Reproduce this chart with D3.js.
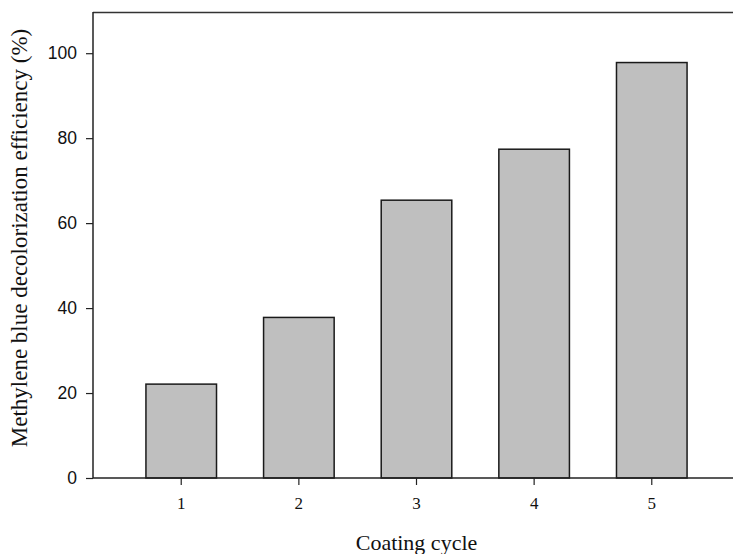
<!DOCTYPE html>
<html>
<head>
<meta charset="utf-8">
<script src="https://cdn.jsdelivr.net/npm/d3@7"></script>
<style>
  html, body { margin: 0; padding: 0; background: #fff; }
  svg { display: block; }
</style>
</head>
<body>
<svg id="chart" width="733" height="554"></svg>
<script>
// Decolorization efficiency after each coating cycle
const cycles = [1, 2, 3, 4, 5];
const efficiency = [22.1, 37.8, 65.4, 77.4, 97.8];
const yTicks = [0, 20, 40, 60, 80, 100];

const svg = d3.select("#chart");
const plotLeft = 93, plotRight = 740, plotTop = 12, plotBottom = 478;

const x = d3.scaleBand()
  .domain(cycles)
  .range([plotLeft, plotRight])
  .paddingInner(0.4)
  .paddingOuter(0.45);

const y = d3.scaleLinear()
  .domain([0, 109.7])
  .range([plotBottom, plotTop]);

// Bars
svg.append("g")
  .selectAll("rect")
  .data(cycles.map((c, i) => ({ c, v: efficiency[i] })))
  .join("rect")
  .attr("x", d => x(d.c))
  .attr("y", d => y(d.v))
  .attr("width", x.bandwidth())
  .attr("height", d => y(0) - y(d.v))
  .attr("fill", "#bfbfbf")
  .attr("stroke", "#1a1a1a")
  .attr("stroke-width", 1.5);

// Top frame line (runs off to the right edge)
svg.append("line")
  .attr("x1", plotLeft).attr("x2", plotRight)
  .attr("y1", plotTop + 0.5).attr("y2", plotTop + 0.5)
  .attr("stroke", "#333").attr("stroke-width", 1.5);

// Y axis
const yAxis = svg.append("g")
  .attr("transform", `translate(${plotLeft},0)`)
  .call(d3.axisLeft(y).tickValues(yTicks).tickSize(7).tickPadding(9).tickSizeOuter(0));
yAxis.select(".domain").attr("stroke", "#222").attr("stroke-width", 1.5)
  .attr("d", `M0,${plotTop}V${plotBottom}`);
yAxis.selectAll(".tick line").attr("stroke", "#222").attr("stroke-width", 1.2);
yAxis.selectAll(".tick text")
  .attr("font-family", "Liberation Sans, Arial, sans-serif")
  .attr("font-size", 17.5)
  .attr("fill", "#111");

// X axis
const xAxis = svg.append("g")
  .attr("transform", `translate(0,${plotBottom})`)
  .call(d3.axisBottom(x).tickSize(7).tickPadding(12).tickSizeOuter(0));
xAxis.select(".domain").attr("stroke", "#222").attr("stroke-width", 1.5)
  .attr("d", `M${plotLeft},0H${plotRight}`);
xAxis.selectAll(".tick line").attr("stroke", "#222").attr("stroke-width", 1.2);
xAxis.selectAll(".tick text")
  .attr("font-family", "Liberation Serif, 'Times New Roman', serif")
  .attr("font-size", 17)
  .attr("fill", "#111");

// Axis titles
svg.append("text")
  .attr("x", (plotLeft + plotRight) / 2)
  .attr("y", 550)
  .attr("text-anchor", "middle")
  .attr("font-family", "Liberation Serif, 'Times New Roman', serif")
  .attr("font-size", 22)
  .attr("fill", "#111")
  .text("Coating cycle");

svg.append("text")
  .attr("transform", `translate(27,238) rotate(-90)`)
  .attr("text-anchor", "middle")
  .attr("font-family", "Liberation Serif, 'Times New Roman', serif")
  .attr("font-size", 23)
  .attr("fill", "#111")
  .text("Methylene blue decolorization efficiency (%)");
</script>
</body>
</html>
